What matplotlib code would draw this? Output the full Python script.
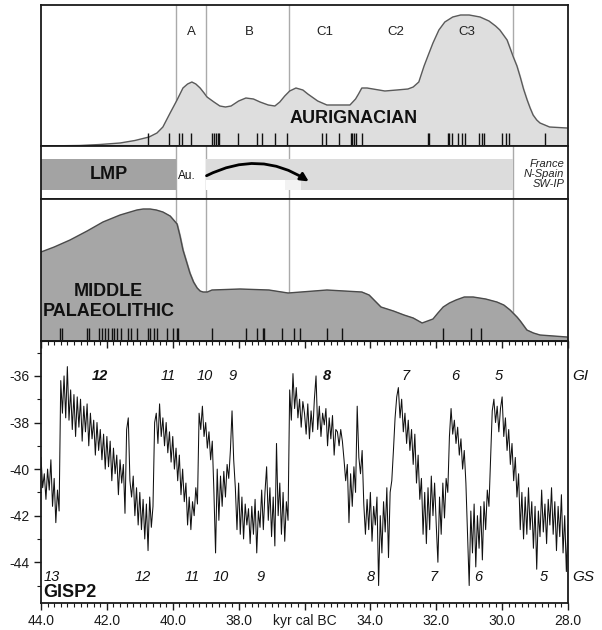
import matplotlib.pyplot as plt
import numpy as np
from matplotlib.ticker import MultipleLocator
from matplotlib.patches import Rectangle, FancyArrowPatch

plt.rcParams['font.family'] = ['Liberation Sans', 'DejaVu Sans']
plt.rcParams['axes.unicode_minus'] = False

# summed probability, Aurignacian (kyr cal BC, relative height)
aur_age = [44.0, 42.82, 42.21, 41.6, 41.15, 40.72, 40.48, 40.30, 40.08, 39.87, 39.69, 39.55,
           39.42, 39.30, 39.17, 39.05, 38.96, 38.75, 38.57, 38.40, 38.23, 38.0, 37.78, 37.55,
           37.35, 37.1, 36.90, 36.75, 36.60, 36.45, 36.26, 36.05, 35.90, 35.6, 35.32, 34.62,
           34.45, 34.36, 34.26, 34.1, 33.56, 33.2, 32.86, 32.7, 32.53, 32.37, 32.23, 32.10,
           31.92, 31.74, 31.5, 31.26, 31.0, 30.67, 30.4, 30.20, 30.07, 29.85, 29.66, 29.55,
           29.45, 29.35, 29.24, 29.15, 29.06, 28.95, 28.85, 28.56, 28.03]
aur_val = [0, 0.5, 1.5, 3, 5.5, 9, 13, 19, 33, 46, 58, 62,
           64, 62, 58, 53, 49, 44, 40, 39, 40, 45, 48, 47,
           44, 41, 40, 44, 50, 55, 58, 56, 52, 45, 41, 41,
           47, 52, 58, 58, 55, 56, 57, 59, 64, 80, 92, 103,
           116, 124, 129, 131, 131, 129, 125, 120, 116, 106, 89, 80,
           69, 57, 46, 38, 31, 26, 23, 19, 18]
aur_dates = [40.74, 40.10, 39.80, 39.71, 39.45, 38.82, 38.75, 38.69, 38.63, 38.59, 38.03,
             37.45, 37.30, 36.90, 36.52, 35.48, 35.36, 34.95, 34.60, 34.55, 34.50, 34.45,
             34.26, 32.24, 32.21, 31.65, 31.60, 31.53, 31.33, 31.23, 31.13, 30.70, 30.60,
             30.55, 30.00, 29.89, 29.79, 28.70]

# summed probability, Middle Palaeolithic
mp_age = [44.0, 43.6, 43.12, 42.6, 42.12, 41.6, 41.09, 40.9, 40.69, 40.5, 40.30, 40.08,
          39.87, 39.78, 39.69, 39.58, 39.48, 39.37, 39.26, 39.17, 39.08, 38.95, 38.81, 37.96,
          37.08, 36.50, 35.32, 34.26, 34.04, 33.86, 33.68, 33.3, 32.98, 32.7, 32.43, 32.10,
          31.95, 31.79, 31.6, 31.40, 31.15, 30.88, 30.5, 30.16, 29.95, 29.76, 29.55, 29.45,
          29.25, 29.05, 28.85, 28.03]
mp_val = [89, 94, 101, 110, 119, 126, 131, 132, 132, 131, 129, 125,
          117, 105, 91, 79, 68, 59, 53, 50, 49, 49, 51, 52,
          51, 48, 51, 49, 46, 40, 34, 30, 26, 23, 18, 22,
          28, 34, 38, 41, 44, 44, 42, 39, 36, 31, 24, 20,
          11, 8, 6, 4]
mp_dates = [43.42, 43.36, 42.61, 42.54, 42.23, 42.16, 42.06, 41.96, 41.85, 41.78, 41.68,
            41.57, 41.35, 41.28, 41.08, 40.74, 40.69, 40.57, 40.47, 40.17, 40.00, 39.86,
            39.83, 38.82, 37.78, 37.45, 37.25, 37.22, 36.67, 36.32, 36.14, 35.31, 34.87,
            31.81, 30.95, 30.65]

zone_lines = [39.9, 39.0, 36.46, 29.67]
zone_names = ["A", "B", "C1", "C2", "C3"]
zone_pos = [39.42, 37.69, 35.38, 33.22, 31.07]

lmp_range = (44.0, 39.9)
aur_range = (39.0, 29.67)

# GISP2 d18O, 44.0 -> 28.0 kyr every 0.05 kyr
gisp2 = [
    -39.5, -40.8, -40.2, -41.3, -40.0, -40.9, -39.6, -41.6, -40.4, -42.3,
    -40.9, -41.8, -36.2, -37.6, -36.0, -37.8, -35.6, -37.9, -36.6, -38.3,
    -36.8, -38.6, -36.9, -38.2, -37.0, -38.8, -37.3, -38.4, -37.2, -39.0,
    -37.6, -38.7, -37.9, -39.4, -38.0, -39.2, -38.3, -39.6, -38.5, -40.0,
    -38.6, -39.9, -38.8, -40.5, -39.1, -40.2, -39.4, -41.1, -39.6, -40.6,
    -39.8, -41.9, -38.3, -37.8, -40.5, -41.2, -40.3, -42.0, -40.8, -42.4,
    -41.0, -42.6, -41.3, -43.0, -41.5, -43.5, -41.2, -42.5, -41.6, -38.0,
    -37.6, -38.9, -37.2, -38.6, -37.8, -39.0, -38.0, -39.3, -38.4, -39.7,
    -38.6, -40.0, -39.1, -40.5, -39.4, -41.1, -40.0, -41.4, -40.6, -42.4,
    -41.2, -42.6, -41.4, -42.0, -40.8, -41.5, -37.6, -38.3, -37.3, -38.6,
    -38.0, -39.1, -38.4, -39.6, -38.8, -41.0, -43.6, -40.0, -42.2, -40.3,
    -41.6, -40.1, -41.2, -39.8, -40.4, -39.2, -37.5, -39.6, -40.8, -42.6,
    -40.6, -42.8, -41.2, -43.0, -41.5, -42.4, -41.7, -43.2, -41.6, -42.8,
    -41.3, -43.6, -41.8, -42.5, -40.9, -42.6, -41.0, -39.9, -42.2, -40.8,
    -42.9, -41.2, -43.3, -38.9, -42.0, -40.6, -42.8, -41.0, -43.1, -41.4,
    -42.2, -36.6, -37.9, -35.9, -37.4, -36.5, -37.8, -37.0, -38.2, -37.1,
    -37.6, -38.5, -37.2, -38.7, -37.5, -38.4, -37.0, -36.0, -38.3, -37.3,
    -38.6, -37.6, -38.1, -37.4, -39.0, -37.8, -38.7, -37.7, -39.4, -38.3,
    -38.4, -39.0, -38.3, -38.8, -39.6, -40.5, -39.8, -42.3, -40.2, -41.6,
    -39.9, -41.0, -37.3, -39.5, -40.2, -39.2, -41.5, -42.8, -41.3, -42.6,
    -41.0, -43.1, -41.6, -42.4, -41.2, -45.0, -42.0, -43.6, -41.4, -42.7,
    -40.8, -43.8, -41.0, -40.5, -39.2, -37.8, -36.9, -36.5, -37.8, -37.0,
    -38.4, -37.6, -38.9, -37.9, -39.2, -38.3, -39.8, -38.5, -40.6, -39.4,
    -41.3, -40.4, -42.8, -41.0, -43.2, -40.8, -42.6, -40.3, -42.0, -40.6,
    -42.4, -44.0, -41.2, -42.8, -40.6, -42.1, -40.4, -41.0, -38.6, -37.4,
    -38.5, -37.9, -38.9, -38.2, -39.4, -38.7, -40.0, -39.2, -40.6, -42.8,
    -45.0, -41.8, -43.6, -41.5, -44.2, -42.0, -43.4, -41.6, -43.9, -41.4,
    -42.6, -40.9, -41.6, -39.5, -37.5, -37.0, -38.0, -37.3, -38.4, -37.4,
    -36.9, -38.6, -37.8, -39.2, -38.3, -39.8, -38.9, -40.5, -39.5, -41.2,
    -40.2, -42.6, -41.0, -43.0, -41.2, -42.8, -40.8, -42.6, -41.4, -43.4,
    -41.6, -44.3, -41.8, -42.9, -40.9, -42.7, -41.5, -43.2, -41.3, -42.4,
    -40.8, -42.8, -41.4, -43.5, -41.6, -42.9, -41.1, -43.6, -42.0, -44.4,
    -42.4,
]
gisp2_age = np.linspace(44.0, 28.0, len(gisp2))

gi_top = [(42.21, "12", True), (40.15, "11", False), (39.02, "10", False), (38.19, "9", False),
          (35.33, "8", True), (32.94, "7", False), (31.43, "6", False), (30.09, "5", False)]
gs_bot = [(43.68, "13"), (40.92, "12"), (39.42, "11"), (38.54, "10"), (37.32, "9"),
          (33.99, "8"), (32.09, "7"), (30.74, "6"), (28.75, "5")]

xt = [44, 42, 40, 38, 36, 34, 32, 30, 28]
xt_labels = ["44.0", "42.0", "40.0", "38.0", "kyr cal BC", "34.0", "32.0", "30.0", "28.0"]

fig = plt.figure(figsize=(6.02, 6.30), dpi=100)
L, W = 41 / 602, 527 / 602


def fy(y):
    return 1 - y / 630


ax1 = fig.add_axes([L, fy(146), W, 141 / 630])
ax2 = fig.add_axes([L, fy(199), W, 53 / 630])
ax3 = fig.add_axes([L, fy(341), W, 142 / 630])
ax4 = fig.add_axes([L, fy(603), W, 262 / 630])

for ax in (ax1, ax2, ax3, ax4):
    ax.set_xlim(44, 28)
    for s in ax.spines.values():
        s.set_linewidth(1.3)
        s.set_color('#1a1a1a')
for ax in (ax1, ax2, ax3):
    ax.set_xticks([])
    ax.set_yticks([])
    for v in zone_lines:
        ax.axvline(v, color='#aaaaaa', lw=1, zorder=0)

# Aurignacian
ax1.set_ylim(0, 141)
ax1.fill_between(aur_age, aur_val, 0, color='#dedede', zorder=1)
ax1.plot(aur_age, aur_val, color='#5a5a5a', lw=1, zorder=2)
ax1.vlines(aur_dates, 0, 13, color='#111111', lw=1, zorder=3)
for n, p in zip(zone_names, zone_pos):
    ax1.text(p, 114, n, ha='center', va='center', fontsize=9.5, color='#222222')
ax1.text(34.5, 28, "AURIGNACIAN", ha='center', va='center', fontsize=13, fontweight='bold',
         color='#111111')

# strip
ax2.set_ylim(0, 53)
ax2.add_patch(Rectangle((lmp_range[1], 9), lmp_range[0] - lmp_range[1], 31,
                        color='#a3a3a3', lw=0, zorder=1))
ax2.add_patch(Rectangle((aur_range[1], 9), aur_range[0] - aur_range[1], 31,
                        color='#dcdcdc', lw=0, zorder=1))
ax2.add_patch(Rectangle((36.6, 9), 2.4, 10, color='white', lw=0, zorder=1.5))
ax2.add_patch(Rectangle((36.1, 9), 0.5, 10, color='#f2f2f2', lw=0, zorder=1.5))
ax2.text(41.95, 24.5, "LMP", ha='center', va='center', fontsize=13, fontweight='bold',
         color='#111111')
ax2.text(39.84, 23, "Au.", ha='left', va='center', fontsize=8.5, color='#111111')
ax2.add_patch(FancyArrowPatch((39.05, 22), (35.8, 16), connectionstyle='arc3,rad=-0.3',
                              arrowstyle='-|>', mutation_scale=12, lw=2, color='k', zorder=3))
for t, yy in zip(["France", "N-Spain", "SW-IP"], [35, 25, 15]):
    ax2.text(0.993, yy, t, transform=ax2.get_yaxis_transform(), ha='right', va='center',
             fontsize=8, style='italic', color='#222222')

# Middle Palaeolithic
ax3.set_ylim(0, 142)
ax3.fill_between(mp_age, mp_val, 0, color='#a6a6a6', zorder=1)
ax3.plot(mp_age, mp_val, color='#4a4a4a', lw=1, zorder=2)
ax3.vlines(mp_dates, 0, 13, color='#111111', lw=1, zorder=3)
ax3.text(41.95, 49, "MIDDLE", ha='center', va='center', fontsize=13, fontweight='bold',
         color='#111111')
ax3.text(41.95, 29, "PALAEOLITHIC", ha='center', va='center', fontsize=13, fontweight='bold',
         color='#111111')

# GISP2
ax4.plot(gisp2_age, gisp2, color='#111111', lw=0.75)
ax4.set_ylim(-45.75, -34.5)
ax4.set_yticks([-44, -42, -40, -38, -36])
ax4.set_yticklabels(["-44", "-42", "-40", "-38", "-36"])
ax4.yaxis.set_minor_locator(MultipleLocator(1))
ax4.set_xticks(xt)
ax4.set_xticklabels(xt_labels)
ax4.xaxis.set_minor_locator(MultipleLocator(0.2))
ax4.tick_params(which='both', direction='out', labelsize=10, colors='#1a1a1a', pad=3)
ax4.tick_params(which='major', length=5, width=1)
ax4.tick_params(which='minor', length=3, width=0.8)
sec = ax4.secondary_xaxis('top')
sec.xaxis.set_major_locator(MultipleLocator(2))
sec.xaxis.set_minor_locator(MultipleLocator(0.2))
sec.tick_params(which='both', direction='in', labeltop=False, colors='#1a1a1a')
sec.tick_params(which='major', length=5, width=1)
sec.tick_params(which='minor', length=3, width=0.8)

for a, t, b in gi_top:
    ax4.text(a, -36, t, ha='center', va='center', fontsize=10.5, style='italic',
             fontweight='bold' if b else 'normal', color='#111111')
for a, t in gs_bot:
    ax4.text(a, -44.63, t, ha='center', va='center', fontsize=10.5, style='italic',
             color='#111111')
ax4.text(1.008, -36, "GI", transform=ax4.get_yaxis_transform(), ha='left', va='center',
         fontsize=11, style='italic', color='#111111')
ax4.text(1.008, -44.63, "GS", transform=ax4.get_yaxis_transform(), ha='left', va='center',
         fontsize=11, style='italic', color='#111111')
ax4.text(0.004, 0.04, "GISP2", transform=ax4.transAxes, ha='left', va='center',
         fontsize=13, fontweight='bold', color='#111111')

fig.savefig("out.png", dpi=100)
